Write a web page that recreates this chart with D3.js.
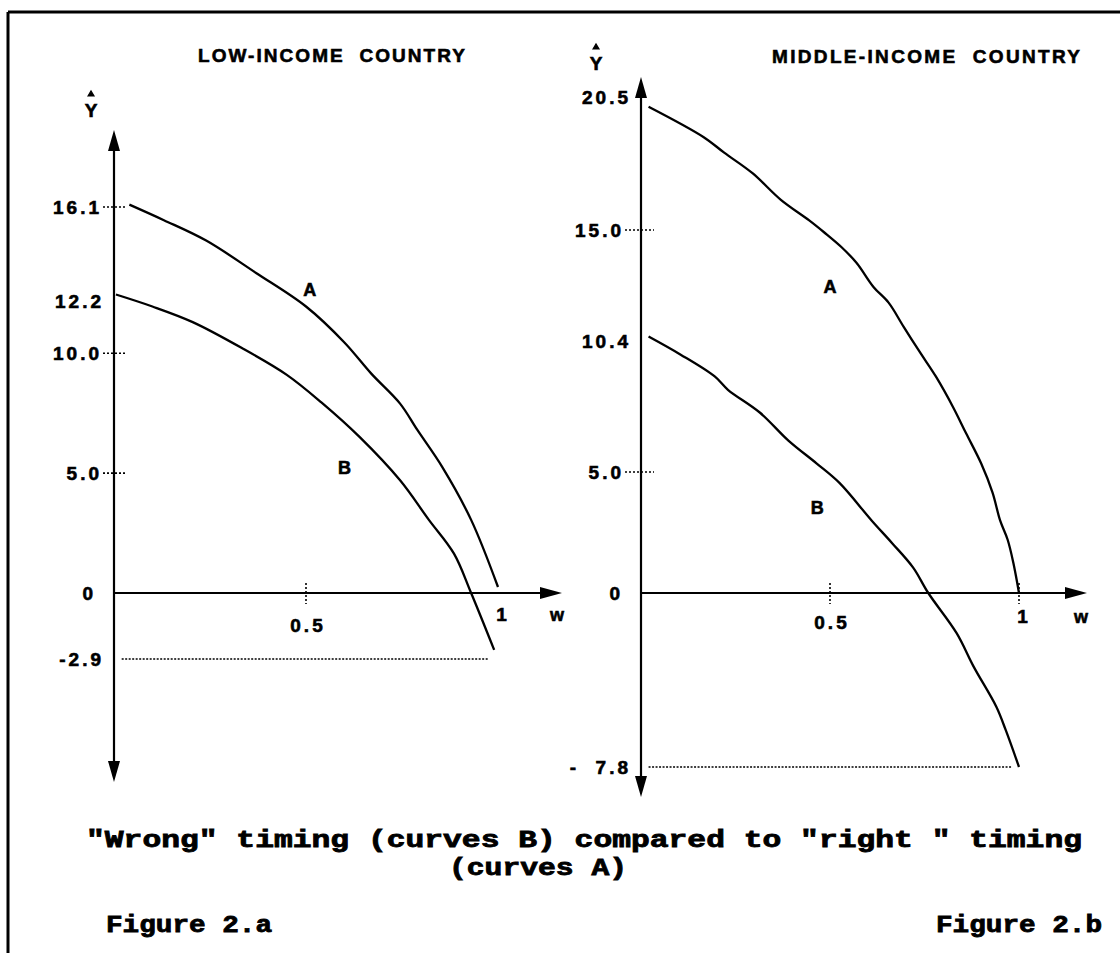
<!DOCTYPE html>
<html>
<head>
<meta charset="utf-8">
<script src="https://cdn.jsdelivr.net/npm/d3@7/dist/d3.min.js"></script>
<style>
    body { margin: 0; background: #fff; }
    svg { display: block; }
    .lbl { font-family: "Liberation Sans", Arial, sans-serif; font-weight: bold; fill: #000; stroke: #000; stroke-width: 0.6; }
    .cap { font-family: "Liberation Mono", "Courier New", monospace; font-weight: bold; fill: #000; stroke: #000; stroke-width: 0.8; }
</style>
</head>
<body>
<div id="chart"></div>
<script>
//curve data: [w, y-hat]
var lowCurveA = [[0.04, 16.2], [0.13, 15.55], [0.24, 14.7], [0.37, 13.35], [0.5, 11.95], [0.6, 10.45],
    [0.67, 9.15], [0.745, 7.9], [0.79, 6.8], [0.855, 5.25], [0.93, 3.05], [1.0, 0.25]];
var lowCurveB = [[0.005, 12.45], [0.1, 11.95], [0.205, 11.3], [0.335, 10.2], [0.45, 9.1], [0.54, 7.95],
    [0.64, 6.5], [0.745, 4.7], [0.82, 3.05], [0.885, 1.65], [0.93, 0], [0.99, -2.5]];
var midCurveA = [[0.02, 20.1], [0.165, 18.85], [0.22, 18.2], [0.295, 17.35], [0.37, 16.25], [0.445, 15.4],
    [0.485, 14.9], [0.53, 14.3], [0.57, 13.65], [0.615, 12.65], [0.655, 12.0], [0.695, 11.0], [0.74, 9.9],
    [0.78, 8.95], [0.825, 7.7], [0.86, 6.6], [0.9, 5.35], [0.93, 4.15], [0.95, 3.0], [0.97, 2.2],
    [0.985, 1.25], [1.0, 0]];
var midCurveB = [[0.02, 10.6], [0.105, 9.85], [0.195, 8.95], [0.23, 8.4], [0.315, 7.45], [0.39, 6.3],
    [0.465, 5.35], [0.525, 4.55], [0.61, 3.0], [0.665, 2.05], [0.72, 1.05], [0.76, 0], [0.835, -1.8],
    [0.88, -3.3], [0.94, -5.1], [0.965, -6.15], [1.0, -7.8]];

//tick values and labels
var lowYTicks = [16.1, 12.2, 10.0, 5.0, 0, -2.9];
var lowYLabels = ["16.1", "12.2", "10.0", "5.0", "0", "-2.9"];
var lowYDotted = [16.1, 10.0, 5.0];
var midYTicks = [20.5, 15.0, 10.4, 5.0, 0, -7.8];
var midYLabels = ["20.5", "15.0", "10.4", "5.0", "0", "-  7.8"];
var midYDotted = [15.0, 5.0];
var xTicks = [0.5, 1];
var xLabels = ["0.5", "1"];
var lowXDotted = [0.5];
var midXDotted = [0.5, 1];

//minimum of curve B, shown by the dotted floor line
var lowFloor = -2.9;
var midFloor = -7.8;

//curve names and where they are written
var curveNames = ["A", "B"];
var lowNamePos = [[0.51, 12.7], [0.6, 5.25]];
var midNamePos = [[0.5, 12.7], [0.466, 3.55]];

//titles and captions
var titles = ["LOW-INCOME  COUNTRY", "MIDDLE-INCOME  COUNTRY"];
var captionLines = ["\"Wrong\" timing (curves B) compared to \"right \" timing", "(curves A)"];
var figureNames = ["Figure 2.a", "Figure 2.b"];

var svgW = 1120;
var svgH = 953;

var svg = d3.select("#chart").append("svg")
    .attr("width", svgW)
    .attr("height", svgH);

svg.append("rect").attr("width", svgW).attr("height", svgH).attr("fill", "#fff");

//frame of the page
svg.append("line").attr("x1", 8).attr("y1", 12).attr("x2", 8).attr("y2", svgH)
    .attr("stroke", "#000").attr("stroke-width", 3);
svg.append("line").attr("x1", 8).attr("y1", 12).attr("x2", svgW).attr("y2", 12)
    .attr("stroke", "#000").attr("stroke-width", 3);

//panel layouts
var panels = [
    {
        title: titles[0], titleX: 198, titleW: 267, titleY: 62,
        x: d3.scaleLinear().domain([0, 1]).range([114, 498]),
        y: d3.scaleLinear().domain([lowFloor, 0, 16.1]).range([659, 593, 207]),
        axisTop: 130, axisBottom: 782, axisRight: 562,
        hatX: 91, hatY: 117,
        yTicks: lowYTicks, yLabels: lowYLabels, yDotted: lowYDotted,
        dotFrom: -11, dotTo: 12, labelGap: -10,
        xDotted: lowXDotted, xLabelY: [632, 621], wX: 557, wY: 621,
        curves: [lowCurveA, lowCurveB], names: lowNamePos,
        floor: lowFloor, floorFrom: 0.02, floorTo: 0.975
    },
    {
        title: titles[1], titleX: 772, titleW: 308, titleY: 63,
        x: d3.scaleLinear().domain([0, 1]).range([641, 1019]),
        y: d3.scaleLinear().domain([midFloor, 0, 20.5]).range([767, 593, 97]),
        axisTop: 77, axisBottom: 797, axisRight: 1087,
        hatX: 596, hatY: 70,
        yTicks: midYTicks, yLabels: midYLabels, yDotted: midYDotted,
        dotFrom: -16, dotTo: 13, labelGap: -10,
        xDotted: midXDotted, xLabelY: [629, 623], wX: 1081, wY: 623,
        curves: [midCurveA, midCurveB], names: midNamePos,
        floor: midFloor, floorFrom: 0.02, floorTo: 0.98
    }
];

panels.forEach(function(p) {
    var g = svg.append("g");
    var x0 = p.x(0);
    var y0 = p.y(0);

    //panel title
    g.append("text")
        .classed("lbl", true)
        .attr("x", p.titleX)
        .attr("y", p.titleY)
        .attr("font-size", "19px")
        .attr("textLength", p.titleW)
        .attr("lengthAdjust", "spacing")
        .style("white-space", "pre")
        .text(p.title);

    //y-hat axis name
    g.append("text")
        .classed("lbl", true)
        .attr("x", p.hatX)
        .attr("y", p.hatY)
        .attr("text-anchor", "middle")
        .attr("font-size", "19px")
        .text("Y");
    g.append("path")
        .attr("d", `M${p.hatX - 3},${p.hatY - 21} L${p.hatX},${p.hatY - 26} L${p.hatX + 3},${p.hatY - 21} Z`)
        .attr("fill", "#000")
        .attr("stroke", "#000")
        .attr("stroke-width", 1.2);

    //vertical axis with arrows at both ends
    g.append("line")
        .attr("x1", x0).attr("x2", x0)
        .attr("y1", p.axisTop + 6).attr("y2", p.axisBottom - 6)
        .attr("stroke", "#000").attr("stroke-width", 2.2);
    g.append("path")
        .attr("d", `M${x0},${p.axisTop} L${x0 - 6},${p.axisTop + 21} L${x0 + 6},${p.axisTop + 21} Z`)
        .attr("fill", "#000");
    g.append("path")
        .attr("d", `M${x0},${p.axisBottom} L${x0 - 6},${p.axisBottom - 21} L${x0 + 6},${p.axisBottom - 21} Z`)
        .attr("fill", "#000");

    //horizontal axis with arrow
    g.append("line")
        .attr("x1", x0).attr("x2", p.axisRight - 6)
        .attr("y1", y0).attr("y2", y0)
        .attr("stroke", "#000").attr("stroke-width", 2.2);
    g.append("path")
        .attr("d", `M${p.axisRight},${y0} L${p.axisRight - 22},${y0 - 6} L${p.axisRight - 22},${y0 + 6} Z`)
        .attr("fill", "#000");

    //y tick labels
    g.selectAll(".ylab")
        .data(p.yTicks)
        .enter()
        .append("text")
        .classed("lbl", true)
        .attr("x", function(d) {
            if (d === 0) return x0 - 18;
            if (p.yDotted.indexOf(d) >= 0) return x0 + p.dotFrom - 1;
            return x0 + p.labelGap;
        })
        .attr("y", d => p.y(d) + 7)
        .attr("text-anchor", "end")
        .attr("font-size", "19px")
        .attr("letter-spacing", "3px")
        .style("white-space", "pre")
        .text((d, i) => p.yLabels[i]);

    //dotted y ticks
    g.selectAll(".ydot")
        .data(p.yDotted)
        .enter()
        .append("line")
        .attr("x1", x0 + p.dotFrom).attr("x2", x0 + p.dotTo)
        .attr("y1", d => p.y(d)).attr("y2", d => p.y(d))
        .attr("stroke", "#000").attr("stroke-width", 1.6)
        .attr("stroke-dasharray", "2,2");

    //dotted x ticks
    g.selectAll(".xdot")
        .data(p.xDotted)
        .enter()
        .append("line")
        .attr("x1", d => p.x(d)).attr("x2", d => p.x(d))
        .attr("y1", y0 - 10).attr("y2", y0 + 11)
        .attr("stroke", "#000").attr("stroke-width", 1.6)
        .attr("stroke-dasharray", "2,2");

    //x tick labels
    g.selectAll(".xlab")
        .data(xTicks)
        .enter()
        .append("text")
        .classed("lbl", true)
        .attr("x", d => p.x(d) + (d === 1 ? 5 : 2))
        .attr("y", (d, i) => p.xLabelY[i])
        .attr("text-anchor", "middle")
        .attr("font-size", "19px")
        .attr("letter-spacing", "3px")
        .text((d, i) => xLabels[i]);

    g.append("text")
        .classed("lbl", true)
        .attr("x", p.wX)
        .attr("y", p.wY)
        .attr("text-anchor", "middle")
        .attr("font-size", "18px")
        .text("w");

    //dotted floor line at the minimum of curve B
    g.append("line")
        .attr("x1", p.x(p.floorFrom)).attr("x2", p.x(p.floorTo))
        .attr("y1", p.y(p.floor)).attr("y2", p.y(p.floor))
        .attr("stroke", "#000").attr("stroke-width", 1.6)
        .attr("stroke-dasharray", "2,1.5");

    //curves
    var line = d3.line()
        .x(d => p.x(d[0]))
        .y(d => p.y(d[1]))
        .curve(d3.curveCatmullRom);

    g.selectAll(".curve")
        .data(p.curves)
        .enter()
        .append("path")
        .attr("d", line)
        .attr("fill", "none")
        .attr("stroke", "#000")
        .attr("stroke-width", 2.3);

    //curve names
    g.selectAll(".cname")
        .data(p.names)
        .enter()
        .append("text")
        .classed("lbl", true)
        .attr("x", d => p.x(d[0]))
        .attr("y", d => p.y(d[1]) + 7)
        .attr("text-anchor", "middle")
        .attr("font-size", "18px")
        .text((d, i) => curveNames[i]);
});

//caption under the two panels
svg.append("text")
    .classed("cap", true)
    .attr("x", 86)
    .attr("y", 847)
    .attr("font-size", "23px")
    .attr("textLength", 996)
    .attr("lengthAdjust", "spacingAndGlyphs")
    .style("white-space", "pre")
    .text(captionLines[0]);

svg.append("text")
    .classed("cap", true)
    .attr("x", 449)
    .attr("y", 875)
    .attr("font-size", "23px")
    .attr("textLength", 178)
    .attr("lengthAdjust", "spacingAndGlyphs")
    .text(captionLines[1]);

svg.selectAll(".fig")
    .data(figureNames)
    .enter()
    .append("text")
    .classed("cap", true)
    .attr("x", (d, i) => i === 0 ? 106 : 936)
    .attr("y", 932)
    .attr("font-size", "23px")
    .attr("textLength", 166)
    .attr("lengthAdjust", "spacingAndGlyphs")
    .text(d => d);
</script>
</body>
</html>
